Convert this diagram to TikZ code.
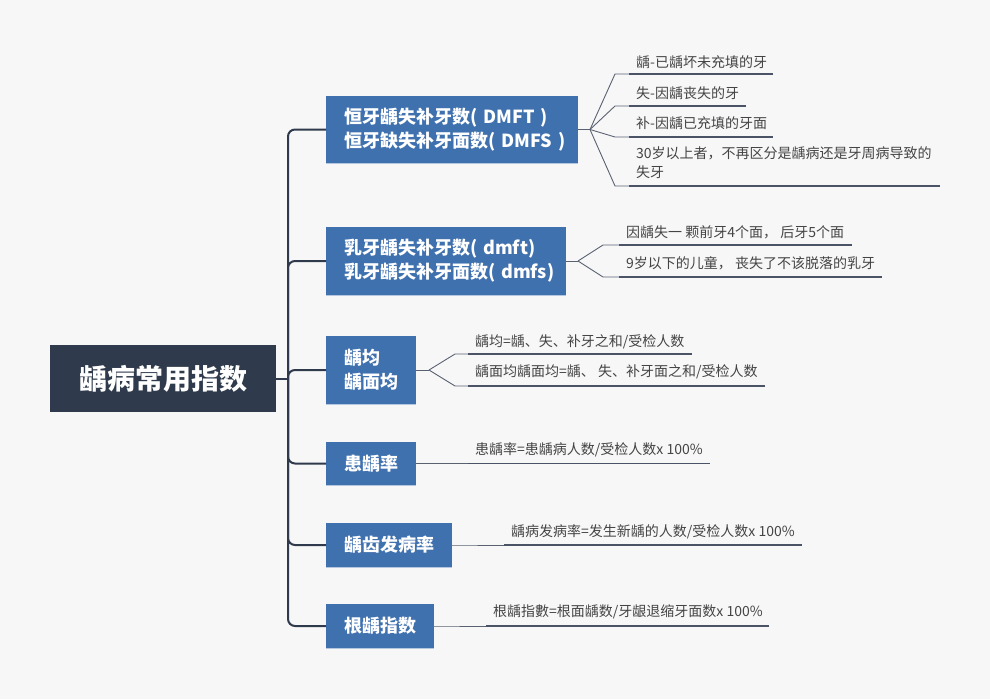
\documentclass[tikz,border=0pt]{standalone}
\usepackage{fontspec}
\setmainfont{Noto Sans CJK SC}
\definecolor{bgc}{HTML}{F7F7F7}
\definecolor{rootc}{HTML}{2F3B4C}
\definecolor{bblue}{HTML}{4071AF}
\definecolor{bedge}{HTML}{B4C6E0}
\definecolor{trunkc}{HTML}{2F3B4C}
\definecolor{connc}{HTML}{5A6272}
\definecolor{ulc}{HTML}{4A5466}
\definecolor{leaftxt}{HTML}{444444}
\tikzset{
  rootbox/.style={fill=rootc, text=white, font=\bfseries\fontsize{28}{34}\selectfont,
    minimum width=226pt, minimum height=67pt, inner sep=0pt},
  branchbox/.style={fill=bblue, text=white, font=\bfseries\fontsize{18}{24}\selectfont,
    inner xsep=18pt, inner ysep=0pt, align=left, anchor=west},
  trunk/.style={draw=trunkc, line width=2pt, rounded corners=7pt},
  conn/.style={draw=connc, line width=0.9pt},
  uline/.style={draw=ulc, line width=1.4pt},
  leaf/.style={text=leaftxt, font=\fontsize{14}{19}\selectfont, inner sep=0pt, anchor=west, align=left},
  boxedge/.style={draw=bedge, line width=1.2pt}
}
% #1 name, #2 fork, #3 diag x, #4 text x, #5 line y, #6 end x, #7 text y, #8 text
\newcommand\myleaf[8]{%
  \node[leaf] (#1) at (#4,#7) {#8};
  \coordinate (#1s) at (#3,#5);
  \coordinate (#1u) at (#4-7,#5);
  \coordinate (#1e) at (#6,#5);
  \draw[conn] (#2) -- (#1s) -- (#1u);
  \draw[uline] (#1u) -- (#1e);
}
\begin{document}
\begin{tikzpicture}[x=1pt,y=-1pt]
\fill[bgc] (0,0) rectangle (990,699);
\useasboundingbox (0,0) rectangle (990,699);

\node[rootbox] (root) at (163,378.5) {龋病常用指数};

\node[branchbox, text width=216pt, minimum height=67pt] (b1) at (326,129.5)
  {\mbox{恒牙龋失补牙数( DMFT )}\\\mbox{恒牙缺失补牙面数( DMFS )}};
\node[branchbox, text width=204pt, minimum height=68pt] (b2) at (326,261)
  {\mbox{乳牙龋失补牙数( dmft)}\\\mbox{乳牙龋失补牙面数( dmfs)}};
\node[branchbox, text width=54pt, minimum height=68pt] (b3) at (326,370)
  {\mbox{龋均}\\\mbox{龋面均}};
\node[branchbox, text width=54pt, minimum height=43pt, align=center] (b4) at (326,463.5)
  {\mbox{患龋率}};
\node[branchbox, text width=90pt, minimum height=44pt, align=center] (b5) at (326,545)
  {\mbox{龋齿发病率}};
\node[branchbox, text width=72pt, minimum height=44pt, align=center] (b6) at (326,626)
  {\mbox{根龋指数}};

\foreach \b in {b1,b2,b3,b4,b5,b6}{
  \draw[boxedge] (\b.south west) -- (\b.south east);
}

\coordinate (j) at (288,378.5);
\draw[trunk] (root.east) -- (j);
\foreach \b in {b1,b2,b3,b4,b5,b6}{
  \draw[trunk] (j) |- (\b.west);
}

% forks
\coordinate (f1) at (590,129.5);
\coordinate (f2) at (578,261);
\coordinate (f3) at (429,370);
\draw[conn] (b1.east) -- (f1);
\draw[conn] (b2.east) -- (f2);
\draw[conn] (b3.east) -- (f3);

\myleaf{l11}{f1}{615}{636}{74}{773}{62}{龋-已龋坏未充填的牙}
\myleaf{l12}{f1}{615}{636}{106}{746}{93}{失-因龋丧失的牙}
\myleaf{l13}{f1}{615}{636}{137}{773}{123.5}{补-因龋已充填的牙面}
\myleaf{l14}{f1}{615}{636}{186}{940}{162.5}{30岁以上者，不再区分是龋病还是牙周病导致的\\失牙}

\myleaf{l21}{f2}{603}{626}{245}{852}{232.5}{因龋失一 颗前牙4个面， 后牙5个面}
\myleaf{l22}{f2}{603}{626}{277}{882}{263.5}{9岁以下的儿童， 丧失了不该脱落的乳牙}

\myleaf{l31}{f3}{455}{475}{354}{692}{341.5}{龋均=龋、失、补牙之和/受检人数}
\myleaf{l32}{f3}{455}{475}{386}{765}{372}{龋面均龋面均=龋、 失、补牙面之和/受检人数}

\myleaf{l41}{b4.east}{416}{475}{463.5}{710}{450}{患龋率=患龋病人数/受检人数x 100\%}
\myleaf{l51}{b5.east}{452}{511}{545}{802}{532}{龋病发病率=发生新龋的人数/受检人数x 100\%}
\myleaf{l61}{b6.east}{434}{493}{626}{769}{612}{根龋指數=根面龋数/牙龈退缩牙面数x 100\%}
\end{tikzpicture}
\end{document}
